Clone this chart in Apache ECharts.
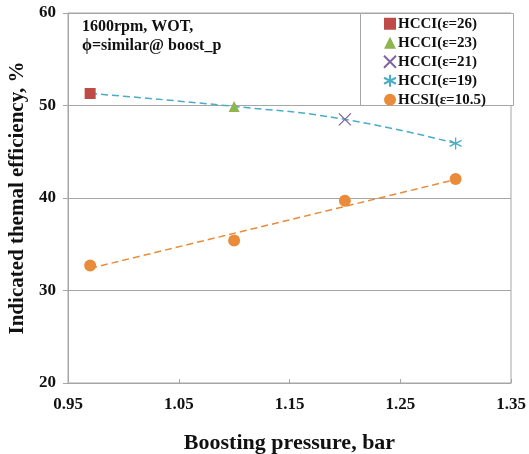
<!DOCTYPE html>
<html lang="en">
  <head>
    <meta charset="UTF-8" />
    <title>Boosting pressure vs efficiency</title>
    <script src="https://cdn.jsdelivr.net/npm/echarts@6/dist/echarts.min.js"></script>
  </head>
  <body style="margin: 0">
    <div id="main" style="width: 529px; height: 454px"></div>
    <script type="text/javascript">
      // values
      const pressure = [0.97, 1.10, 1.20, 1.30];
      const hcciEff = [51.3, 49.9, 48.5, 45.9];
      const hcsiEff = [32.7, 35.4, 39.7, 42.05];
      const hcciNames = ["HCCI(ε=26)", "HCCI(ε=23)", "HCCI(ε=21)", "HCCI(ε=19)"];
      const hcsiName = "HCSI(ε=10.5)";
      // dashed linear trend of HCSI, end points
      const hcsiTrendX = [0.97, 1.30];
      const hcsiTrendY = [32.4, 42.0];

      const serif = "Liberation Serif";
      const hcciColors = ["#be4b48", "#8fb54e", "#8064a2", "#4bacc6"];
      const orange = "#e98b39";
      const hcciSymbols = [
        "rect",
        "triangle",
        "path://M0,0L10,10M10,0L0,10",
        "path://M5,0L5,10M0,2.5L10,7.5M0,7.5L10,2.5",
      ];

      let series = [
        {
          name: "hcciTrend",
          type: "line",
          data: pressure.map((x, i) => [x, hcciEff[i]]),
          smooth: true,
          showSymbol: false,
          silent: true,
          lineStyle: { color: "#4bacc6", width: 1.5, type: [7, 4] },
          z: 1,
        },
        {
          name: "hcsiTrend",
          type: "line",
          data: hcsiTrendX.map((x, i) => [x, hcsiTrendY[i]]),
          showSymbol: false,
          silent: true,
          lineStyle: { color: orange, width: 1.5, type: [7, 4] },
          z: 1,
        },
      ];
      for (let i = 0; i < hcciNames.length; i++) {
        let lined = i >= 2;
        series.push({
          name: hcciNames[i],
          type: "scatter",
          data: [[pressure[i], hcciEff[i]]],
          symbol: hcciSymbols[i],
          symbolSize: lined ? 12 : 11,
          itemStyle: lined
            ? { color: "transparent", borderColor: hcciColors[i], borderWidth: 1.3, opacity: 1 }
            : { color: hcciColors[i], opacity: 1 },
          z: 3,
        });
      }
      series.push({
        name: hcsiName,
        type: "scatter",
        data: pressure.map((x, i) => [x, hcsiEff[i]]),
        symbol: "circle",
        symbolSize: 12,
        itemStyle: { color: orange, opacity: 1 },
        z: 3,
      });

      let options = {
        animation: false,
        backgroundColor: "#fff",
        textStyle: { fontFamily: serif },
        grid: {
          left: 68,
          right: 18,
          top: 13,
          bottom: 71,
          outerBoundsMode: "none",
          show: true,
          borderColor: "#a6a6a6",
          borderWidth: 1,
        },
        graphic: [
          {
            type: "text",
            left: 82,
            top: 17,
            style: {
              text: "1600rpm, WOT,\nϕ=similar@ boost_p",
              font: "bold 16px " + serif,
              lineHeight: 19,
              fill: "#111",
            },
          },
          {
            type: "rect",
            left: 360,
            top: 13,
            shape: { width: 153, height: 92 },
            style: { fill: "#fff", stroke: "#a6a6a6", lineWidth: 1 },
            z: 50,
          },
        ],
        legend: {
          data: hcciNames.concat([hcsiName]),
          orient: "vertical",
          left: 383,
          top: 16,
          padding: 0,
          itemGap: 3.5,
          itemWidth: 12,
          itemHeight: 12,
          z: 60,
          textStyle: {
            fontFamily: serif,
            fontWeight: "bold",
            fontSize: 15,
            lineHeight: 15.5,
            color: "#111",
            padding: [0, 0, 0, -3],
          },
        },
        xAxis: {
          type: "value",
          min: 0.95,
          max: 1.35,
          interval: 0.1,
          name: "Boosting pressure, bar",
          nameLocation: "middle",
          nameGap: 49,
          nameTextStyle: { fontFamily: serif, fontWeight: "bold", fontSize: 22, color: "#111" },
          axisLine: { lineStyle: { color: "#a6a6a6" } },
          axisTick: { inside: true, length: 4, lineStyle: { color: "#a6a6a6" } },
          axisLabel: {
            fontFamily: serif,
            fontWeight: "bold",
            fontSize: 17,
            color: "#111",
            margin: 13,
            formatter: (v) => v.toFixed(2),
          },
          splitLine: { show: false },
        },
        yAxis: {
          type: "value",
          min: 20,
          max: 60,
          interval: 10,
          name: "Indicated themal efficiency, %",
          nameLocation: "middle",
          nameGap: 40,
          nameTextStyle: { fontFamily: serif, fontWeight: "bold", fontSize: 21, color: "#111" },
          axisLine: { show: true, lineStyle: { color: "#a6a6a6" } },
          axisTick: { show: true, length: 5, lineStyle: { color: "#a6a6a6" } },
          axisLabel: { fontFamily: serif, fontWeight: "bold", fontSize: 17, color: "#111", margin: 12 },
          splitLine: { lineStyle: { color: "#a6a6a6" } },
        },
        series: series,
      };

      let myChart = echarts.init(document.getElementById("main"));
      myChart.setOption(options);
    </script>
  </body>
</html>
